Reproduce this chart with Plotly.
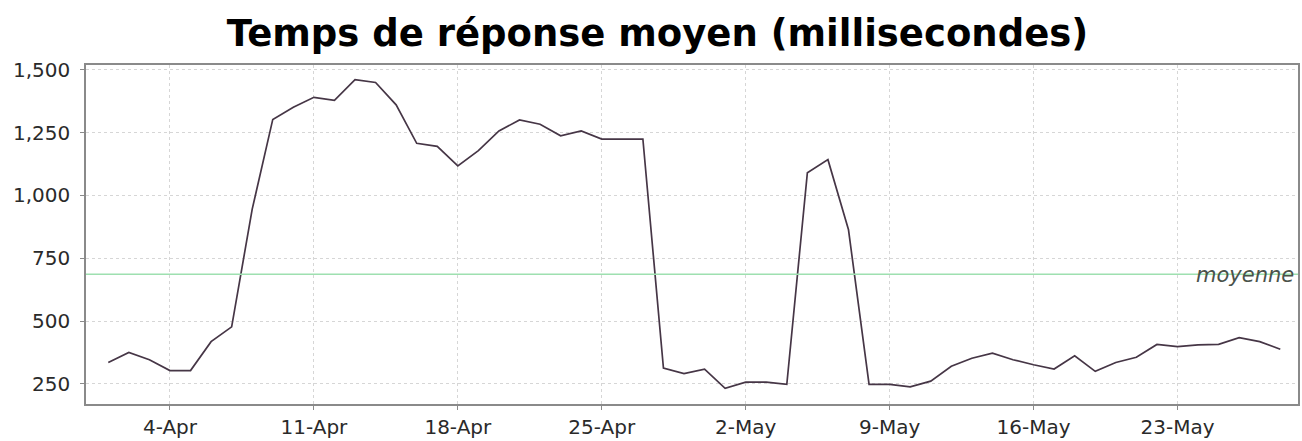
import plotly.graph_objects as go
import pandas as pd

dates = pd.date_range("2011-04-01", "2011-05-28", freq="D")
values = [335, 375, 346, 303, 303, 418, 477, 945, 1302, 1350,
          1390, 1378, 1460, 1449, 1360, 1207, 1195, 1117, 1178, 1256,
          1300, 1283, 1237, 1256, 1224, 1224, 1224, 313, 291, 309,
          232, 257, 257, 248, 1090, 1142, 863, 248, 248, 238,
          261, 320, 352, 372, 346, 326, 309, 362, 300, 335,
          356, 407, 398, 405, 407, 434, 418, 388]
mean_value = 686
mean_label = "moyenne"
tick_dates = ["2011-04-04", "2011-04-11", "2011-04-18", "2011-04-25",
              "2011-05-02", "2011-05-09", "2011-05-16", "2011-05-23"]
tick_labels = ["4-Apr", "11-Apr", "18-Apr", "25-Apr", "2-May", "9-May", "16-May", "23-May"]
y_ticks = [250, 500, 750, 1000, 1250, 1500]
y_labels = ["250", "500", "750", "1,000", "1,250", "1,500"]
title = "Temps de réponse moyen (millisecondes)"

fig = go.Figure()
fig.add_trace(go.Scatter(x=dates, y=values, mode="lines",
                         line=dict(color="#463646", width=1.7),
                         showlegend=False, hoverinfo="x+y"))

fig.add_shape(type="line", xref="paper", x0=0, x1=1, yref="y",
              y0=mean_value, y1=mean_value,
              line=dict(color="#9ee0b0", width=1.5))
fig.add_annotation(xref="paper", x=0.9985, xanchor="right", yref="y",
                   y=mean_value, yanchor="middle", yshift=-1, text=mean_label,
                   showarrow=False,
                   font=dict(family="DejaVu Sans", size=21, color="#4a524a",
                             style="italic"))

axis_common = dict(showline=True, linecolor="#8a8a8a", linewidth=1.5,
                   mirror=True, showgrid=True, gridcolor="#d6d6d6",
                   griddash="dot", gridwidth=1, ticks="outside",
                   ticklen=4, tickcolor="#8a8a8a", zeroline=False,
                   tickfont=dict(family="DejaVu Sans", size=20, color="#2a2a2a"))

fig.update_xaxes(type="date", range=["2011-03-30 22:00", "2011-05-28 20:40"],
                 tickvals=tick_dates, ticktext=tick_labels, **axis_common)
fig.update_yaxes(range=[170, 1518.5], tickvals=y_ticks, ticktext=y_labels,
                 ticklabelstandoff=6, **axis_common)

fig.update_layout(
    width=1302, height=441,
    margin=dict(l=86, r=2, t=65, b=33),
    paper_bgcolor="white", plot_bgcolor="white",
    title=dict(text="<b>" + title + "</b>", x=0.505, xanchor="center",
               y=0.926, yanchor="middle",
               font=dict(family="DejaVu Sans", size=37, color="#000000")),
)

fig.write_html("out.html", config={"displayModeBar": False},
               post_script="document.body.style.margin='0px';document.body.style.overflow='hidden';")
